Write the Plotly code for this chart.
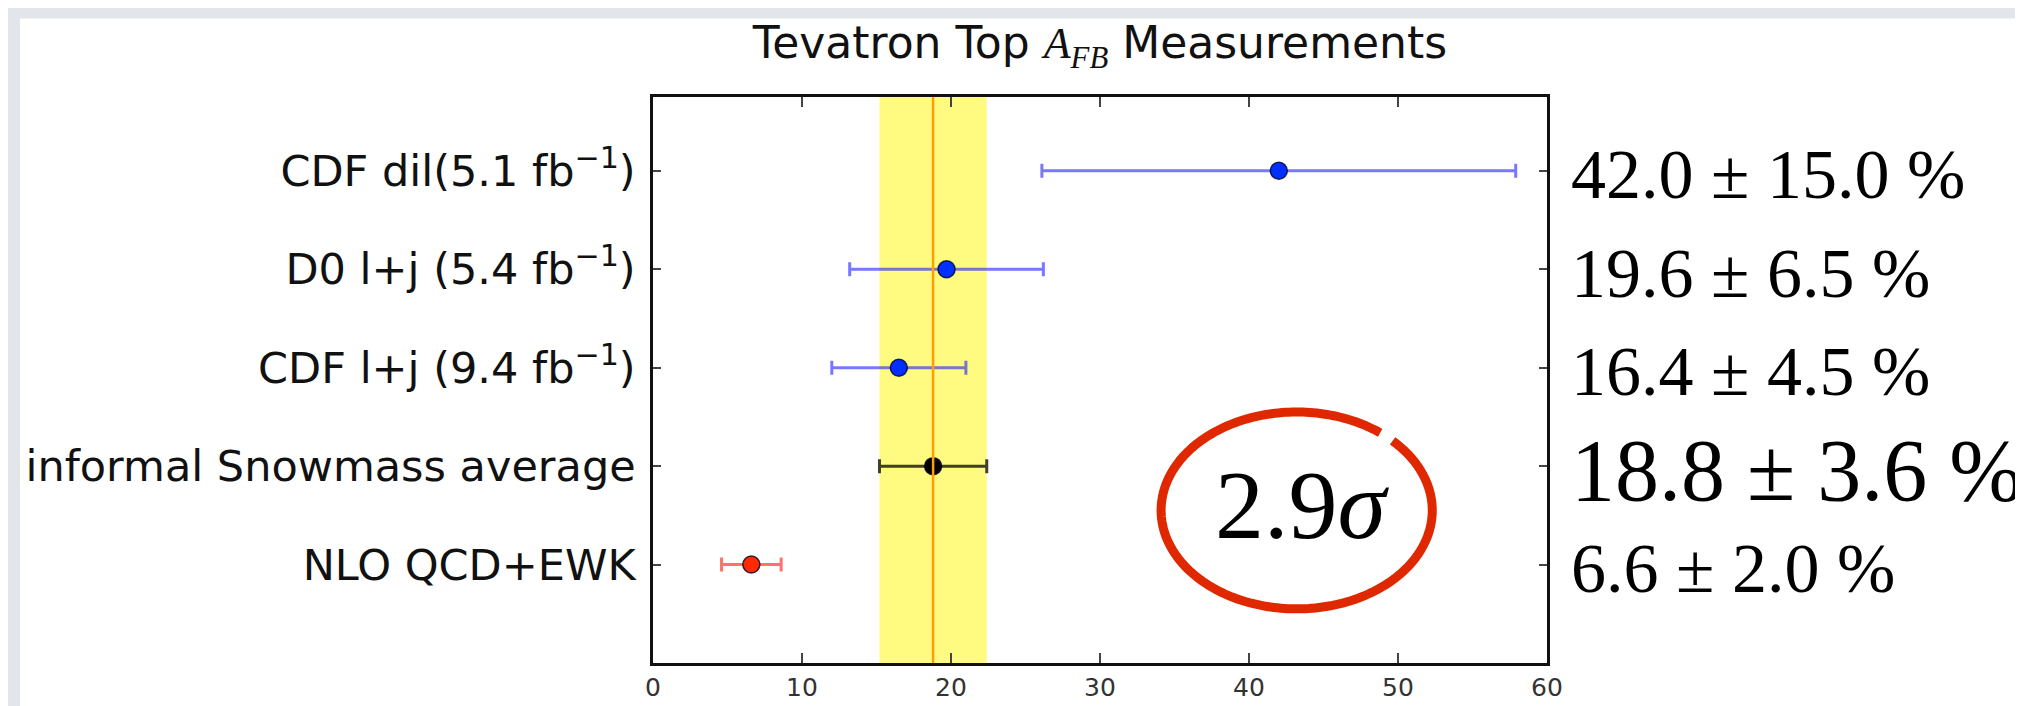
import numpy as np
import plotly.graph_objects as go

# ---------------- data ----------------
row_labels = ["CDF dil(5.1 fb<sup>−1</sup>)", "D0 l+j (5.4 fb<sup>−1</sup>)",
              "CDF l+j (9.4 fb<sup>−1</sup>)", "informal Snowmass average", "NLO QCD+EWK"]
row_pos = [5, 4, 3, 2, 1]
afb_values = [42.0, 19.7, 16.5, 18.8, 6.6]
afb_errors = [15.9, 6.5, 4.5, 3.6, 2.0]
value_texts = ["42.0 ± 15.0 %", "19.6 ± 6.5 %", "16.4 ± 4.5 %", "18.8 ± 3.6 %", "6.6 ± 2.0 %"]
value_text_sizes = [70, 70, 70, 88, 70]
avg_value = 18.8
avg_error = 3.6
x_ticks = [0, 10, 20, 30, 40, 50, 60]
sigma_text = "2.9<i>σ</i>"

# ---------------- geometry ----------------
W, H = 2023, 706
ML, MR, MT, MB = 645, 484, 89, 41
PW, PH = W - ML - MR, H - MT - MB

fig = go.Figure()

groups = [
    (slice(0, 3), "#0030ff", "rgba(30,30,255,0.6)"),
    (slice(3, 4), "#000000", "rgba(0,0,0,0.75)"),
    (slice(4, 5), "#ff2a00", "rgba(255,40,20,0.65)"),
]
for sl, mcol, ecol in groups:
    fig.add_trace(go.Scatter(
        x=afb_values[sl], y=row_pos[sl], mode="markers",
        marker=dict(size=17, color=mcol, line=dict(color="rgba(0,0,40,0.8)", width=1.5)),
        error_x=dict(type="data", array=afb_errors[sl], color=ecol, thickness=3, width=7),
        hoverinfo="skip",
    ))

def px2paper_x(px):
    return (px - ML) / PW

def px2paper_y(py):
    return (H - MB - py) / PH

shapes = [
    # white slide area over gray background
    dict(type="rect", xref="paper", yref="paper",
         x0=px2paper_x(12), x1=px2paper_x(2013), y0=px2paper_y(H + 5), y1=px2paper_y(9),
         fillcolor="white", line=dict(width=0), layer="below"),
    # yellow band
    dict(type="rect", xref="x", yref="paper", x0=avg_value - avg_error, x1=avg_value + avg_error,
         y0=0, y1=1, fillcolor="#fffa80", line=dict(width=0), layer="below"),
    # orange central line
    dict(type="line", xref="x", yref="paper", x0=avg_value, x1=avg_value, y0=0, y1=1,
         line=dict(color="#ffa000", width=2.5), layer="above"),
]

# hand-drawn style ellipse around the significance label
cx, cy, rx, ry = 43.2, 1.55, 9.1, 1.0
t = np.radians(np.linspace(52, 405, 240))
ex = cx + rx * np.cos(t)
ey = cy + ry * np.sin(t)
path = "M " + " L ".join(f"{a:.4f},{b:.4f}" for a, b in zip(ex, ey))
shapes.append(dict(type="path", xref="x", yref="y", path=path,
                   line=dict(color="#e02800", width=9), layer="above"))

annotations = []
for txt, yv, fs in zip(value_texts, row_pos, value_text_sizes):
    annotations.append(dict(
        text=txt, xref="paper", yref="y", x=1.0, y=yv, xanchor="left", yanchor="middle",
        xshift=22, yshift=-4, showarrow=False,
        font=dict(family="Liberation Serif", size=fs, color="black")))
annotations.append(dict(
    text=sigma_text, xref="x", yref="y", x=43.6, y=1.61, xanchor="center", yanchor="middle",
    showarrow=False, font=dict(family="Liberation Serif", size=98, color="black")))

fig.update_layout(
    width=W, height=H,
    margin=dict(l=ML, r=MR, t=MT, b=MB),
    paper_bgcolor="#e2e5e9", plot_bgcolor="white",
    showlegend=False,
    shapes=shapes, annotations=annotations,
    title=dict(
        text='Tevatron Top <span style="font-family:Liberation Serif"><i>A</i><sub><i>FB</i></sub></span> Measurements',
        x=0.5, xref="paper", xanchor="center",
        y=1 - 35 / H, yref="container", yanchor="middle",
        font=dict(family="DejaVu Sans", size=44, color="#111")),
    xaxis=dict(range=[0, 60], tickvals=x_ticks, ticks="inside", ticklen=10, tickwidth=1.5,
               tickcolor="#444", mirror="ticks", showline=True, linecolor="#111", linewidth=2.5,
               showgrid=False, zeroline=False,
               tickfont=dict(family="DejaVu Sans", size=25, color="#333")),
    yaxis=dict(range=[0, 5.75], tickvals=row_pos, ticktext=row_labels, ticks="inside", ticklen=8,
               tickwidth=1.5, tickcolor="#444", mirror="ticks", showline=True, linecolor="#111",
               linewidth=2.5, showgrid=False, zeroline=False, ticklabelstandoff=6,
               tickfont=dict(family="DejaVu Sans", size=43, color="#111")),
)

fig.write_html("out.html")
